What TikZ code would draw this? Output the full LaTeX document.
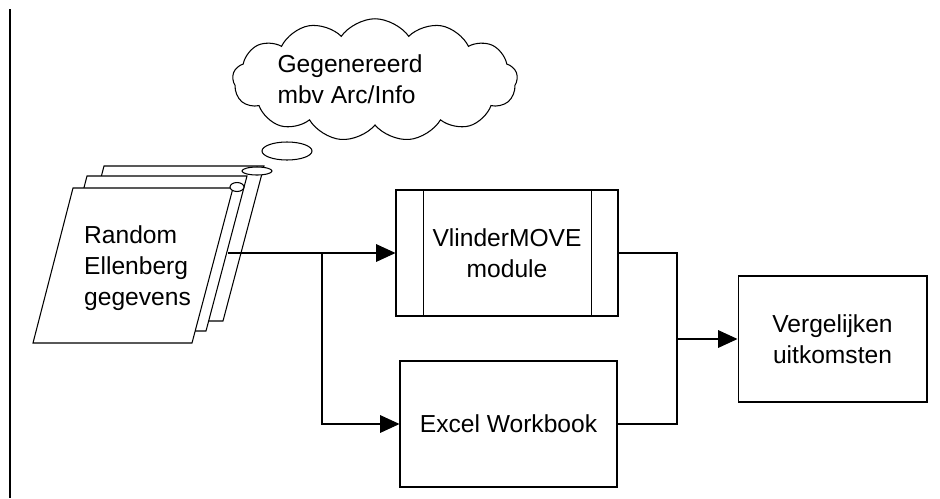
\documentclass[tikz,border=0pt]{standalone}
\usepackage{fontspec}
\setmainfont{Liberation Sans}
\usetikzlibrary{arrows.meta,shapes.symbols}
\tikzset{
  box/.style={draw,line width=0.6pt,minimum height=2.52cm,inner sep=0pt,align=center},
  page/.style={draw,fill=white,line width=0.6pt},
  flow/.style={line width=0.6pt,-{Triangle[length=11pt,width=10pt]}},
  link/.style={line width=0.6pt},
  wide/.style={line width=1.3pt}
}
\begin{document}
\begin{tikzpicture}[x=0.02cm,y=-0.02cm,font=\fontsize{14}{17.6}\selectfont]
    \useasboundingbox (0,0) rectangle (940,498);
    % left margin line
    \draw [line width=1.6pt] (10,9) -- (10,498);
    % thought cloud
    \node [cloud,draw,line width=0.6pt,cloud puffs=13,cloud puff arc=110,
      minimum width=5.7cm,minimum height=2.45cm,inner sep=0pt] (cloud) at (375,80) {};
    \node [align=left] (cloudtext) at (350,79) {Gegenereerd\\mbv Arc/Info};
    \draw [line width=0.6pt] (287,151) ellipse (25 and 9);
    % stack of pages, back to front
    \foreach \dx/\dy in {31/-22,14/-12,0/0}
      \draw [page] (73+\dx,188+\dy) -- (233+\dx,188+\dy) -- (192+\dx,343+\dy)
        -- (33+\dx,343+\dy) -- cycle;
    \draw [page] (257,171) ellipse (15 and 4);
    \draw [page] (237,187) ellipse (7 and 4.5);
    \node [anchor=west,align=left] (data) at (78,268) {Random\\Ellenberg\\gegevens};
    % process boxes
    \node [box,minimum width=4.44cm] (move) at (507,253) {VlinderMOVE\\module};
    \draw [link] ([xshift=0.56cm]move.north west) -- ([xshift=0.56cm]move.south west);
    \draw [link] ([xshift=-0.54cm]move.north east) -- ([xshift=-0.54cm]move.south east);
    \node [box,minimum width=4.34cm] (excel) at (508.5,424) {Excel Workbook};
    \node [box,minimum width=3.78cm] (compare) at (832.5,339) {Vergelijken\\uitkomsten};
    % connectors
    \coordinate (out) at (228,253);
    \coordinate (split) at (322,253);
    \coordinate (merge) at (677,339);
    \draw [wide] (out) -- (split);
    \draw [flow] (split) -- (move.west);
    \draw [flow] (split) |- (excel.west);
    \draw [link] (move.east) -| (merge) |- (excel.east);
    \draw [flow] (merge) -- (compare.west);
\end{tikzpicture}
\end{document}
